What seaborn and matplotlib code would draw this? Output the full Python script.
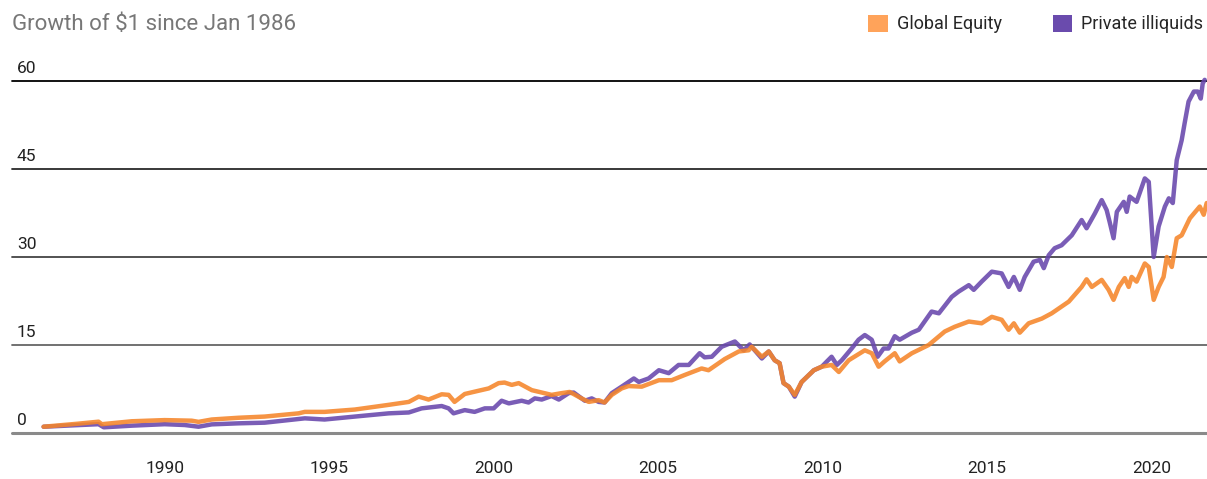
import pandas as pd
import numpy as np
import matplotlib.pyplot as plt
import seaborn as sns
from matplotlib.patches import Patch

# values (decimal years)
equity_years = [1986.32, 1987.39, 1987.99, 1988.09, 1989.0, 1990.0, 1990.82, 1991.03, 1991.43, 1992.25,
                1993.04, 1994.07, 1994.26, 1994.86, 1995.78, 1996.81, 1997.42, 1997.72, 1998.02, 1998.42,
                1998.63, 1998.81, 1999.12, 1999.54, 1999.85, 2000.15, 2000.33, 2000.55, 2000.76, 2001.16,
                2001.46, 2001.76, 2002.07, 2002.31, 2002.67, 2002.89, 2003.19, 2003.37, 2003.59, 2003.89,
                2004.1, 2004.5, 2005.02, 2005.41, 2005.81, 2006.32, 2006.53, 2007.02, 2007.45, 2007.75,
                2007.84, 2008.15, 2008.36, 2008.54, 2008.69, 2008.81, 2008.97, 2009.15, 2009.36, 2009.73,
                2009.97, 2010.27, 2010.49, 2010.79, 2011.28, 2011.49, 2011.7, 2011.88, 2012.19, 2012.34,
                2012.71, 2013.22, 2013.71, 2014.01, 2014.44, 2014.83, 2015.14, 2015.44, 2015.65, 2015.81,
                2015.99, 2016.26, 2016.66, 2016.96, 2017.48, 2017.87, 2018.02, 2018.18, 2018.48, 2018.69,
                2018.84, 2019.0, 2019.18, 2019.3, 2019.39, 2019.54, 2019.79, 2019.91, 2020.06, 2020.21,
                2020.36, 2020.46, 2020.61, 2020.76, 2020.91, 2021.16, 2021.46, 2021.58, 2021.67]
equity_vals = [1.07, 1.6, 1.93, 1.5, 2.0, 2.2, 2.1, 1.9, 2.3, 2.6,
               2.8, 3.35, 3.6, 3.6, 4.0, 4.8, 5.3, 6.2, 5.7, 6.6,
               6.5, 5.3, 6.65, 7.2, 7.6, 8.5, 8.6, 8.2, 8.5, 7.3,
               6.9, 6.5, 6.8, 7.0, 5.9, 5.3, 5.6, 5.2, 6.5, 7.6,
               8.0, 7.9, 9.0, 9.0, 9.9, 11.0, 10.7, 12.6, 13.9, 14.1,
               14.7, 13.0, 13.9, 12.4, 11.9, 8.5, 7.9, 6.5, 8.7, 10.7,
               11.3, 11.6, 10.4, 12.4, 14.1, 13.6, 11.3, 12.2, 13.6, 12.2,
               13.6, 15.0, 17.3, 18.1, 19.0, 18.7, 19.8, 19.3, 17.6, 18.7,
               17.1, 18.7, 19.5, 20.4, 22.4, 24.9, 26.2, 24.9, 26.1, 24.4,
               22.7, 24.9, 26.4, 24.9, 26.6, 25.8, 28.9, 28.3, 22.7, 24.9,
               26.6, 30.0, 28.3, 33.2, 33.7, 36.6, 38.6, 37.2, 39.2]

private_years = [1986.32, 1987.39, 1987.99, 1988.15, 1989.0, 1990.0, 1990.61, 1991.03, 1991.43, 1992.25,
                 1993.04, 1994.26, 1994.86, 1995.78, 1996.81, 1997.42, 1997.81, 1998.42, 1998.63, 1998.78,
                 1999.12, 1999.42, 1999.73, 2000.0, 2000.24, 2000.46, 2000.85, 2001.06, 2001.25, 2001.46,
                 2001.76, 2001.98, 2002.28, 2002.43, 2002.77, 2002.98, 2003.19, 2003.37, 2003.59, 2003.89,
                 2004.26, 2004.41, 2004.71, 2005.02, 2005.32, 2005.62, 2005.93, 2006.26, 2006.41, 2006.63,
                 2006.93, 2007.33, 2007.6, 2007.78, 2008.15, 2008.36, 2008.54, 2008.69, 2008.81, 2008.97,
                 2009.15, 2009.36, 2009.73, 2009.97, 2010.27, 2010.43, 2010.58, 2010.88, 2011.09, 2011.28,
                 2011.49, 2011.67, 2011.85, 2012.0, 2012.19, 2012.34, 2012.71, 2012.92, 2013.31, 2013.53,
                 2013.92, 2014.13, 2014.44, 2014.59, 2014.83, 2015.14, 2015.44, 2015.65, 2015.81, 2015.99,
                 2016.14, 2016.41, 2016.6, 2016.72, 2016.87, 2017.05, 2017.26, 2017.57, 2017.87, 2018.02,
                 2018.27, 2018.48, 2018.63, 2018.72, 2018.84, 2018.94, 2019.15, 2019.24, 2019.33, 2019.54,
                 2019.79, 2019.91, 2020.06, 2020.21, 2020.4, 2020.52, 2020.64, 2020.76, 2020.91, 2021.0,
                 2021.12, 2021.28, 2021.4, 2021.49, 2021.55, 2021.61]
private_vals = [1.07, 1.35, 1.5, 0.97, 1.25, 1.5, 1.36, 1.07, 1.47, 1.65,
                1.76, 2.5, 2.3, 2.8, 3.35, 3.5, 4.2, 4.6, 4.2, 3.35,
                3.9, 3.6, 4.2, 4.2, 5.5, 5.05, 5.5, 5.2, 5.9, 5.7,
                6.3, 5.7, 6.8, 6.9, 5.5, 5.9, 5.3, 5.2, 6.8, 7.9,
                9.3, 8.7, 9.3, 10.7, 10.2, 11.6, 11.6, 13.6, 12.9, 13.0,
                14.7, 15.6, 14.1, 15.1, 12.7, 13.9, 12.4, 11.9, 8.5, 7.9,
                6.2, 8.7, 10.7, 11.3, 13.0, 11.6, 12.4, 14.4, 15.9, 16.7,
                15.9, 13.0, 14.4, 14.4, 16.5, 15.9, 17.1, 17.6, 20.7, 20.4,
                23.2, 24.1, 25.2, 24.4, 25.8, 27.5, 27.2, 24.9, 26.6, 24.4,
                26.6, 29.2, 29.5, 28.1, 30.3, 31.5, 32.0, 33.7, 36.3, 34.9,
                37.4, 39.7, 38.0, 36.0, 33.2, 37.7, 39.4, 37.7, 40.3, 39.4,
                43.4, 42.8, 30.0, 35.2, 38.6, 40.0, 39.2, 46.5, 49.9, 52.8,
                56.5, 58.2, 58.2, 57.0, 59.6, 60.2]

series_names = ['Global Equity', 'Private illiquids']
colors = {'Global Equity': '#F5852A', 'Private illiquids': '#6847AC'}
y_ticks = [0, 15, 30, 45, 60]
grid_colors = ['#8a8a8a', '#666666', '#444444', '#2a2a2a', '#000000']
x_ticks = [1990, 1995, 2000, 2005, 2010, 2015, 2020]

df = pd.concat([
    pd.DataFrame({'year': private_years, 'value': private_vals, 'series': 'Private illiquids'}),
    pd.DataFrame({'year': equity_years, 'value': equity_vals, 'series': 'Global Equity'}),
])

sns.set_theme(style='white')
plt.rcParams['font.family'] = ['Roboto', 'DejaVu Sans']

fig = plt.figure(figsize=(12.07, 4.79), dpi=100)
ax = fig.add_axes([12 / 1207, 46 / 479, 1195 / 1207, 352 / 479])

# gridlines with labels sitting above them
for v, c in zip(y_ticks, grid_colors):
    lw = 2.2 if v == 0 else 1.3
    ax.axhline(v, color=c, lw=lw, zorder=1, clip_on=False)
    ax.text(0.004, v + 0.8, str(v), transform=ax.get_yaxis_transform(),
            fontsize=12.5, color='#222222', ha='left', va='bottom')

sns.lineplot(data=df, x='year', y='value', hue='series', palette=colors,
             hue_order=['Private illiquids', 'Global Equity'],
             linewidth=3.2, alpha=0.88, legend=False, ax=ax, estimator=None, sort=False)
for ln in ax.get_lines():
    ln.set_clip_on(False)

ax.set_xlim(1985.36, 2021.68)
ax.set_ylim(0, 60)
ax.set_yticks([])
ax.set_xticks(x_ticks)
ax.set_xticklabels([str(t) for t in x_ticks], fontsize=12.5, color='#222222')
ax.tick_params(axis='x', length=0, pad=20)
ax.set_xlabel('')
ax.set_ylabel('')
for s in ax.spines.values():
    s.set_visible(False)

fig.text(12 / 1207, 1 - 24 / 479, 'Growth of $1 since Jan 1986', fontsize=16,
         color='#777777', ha='left', va='center')

handles = [Patch(facecolor='#FFA35A', edgecolor='none'), Patch(facecolor='#6A4BAD', edgecolor='none')]
fig.legend(handles, series_names, loc='center right', bbox_to_anchor=(1.0, 1 - 24 / 479),
           ncol=2, frameon=False, fontsize=13, handlelength=1.1, handleheight=1.1,
           handletextpad=0.5, columnspacing=2.8, borderaxespad=0.2, borderpad=0.0)

fig.savefig('out.png', dpi=100)
